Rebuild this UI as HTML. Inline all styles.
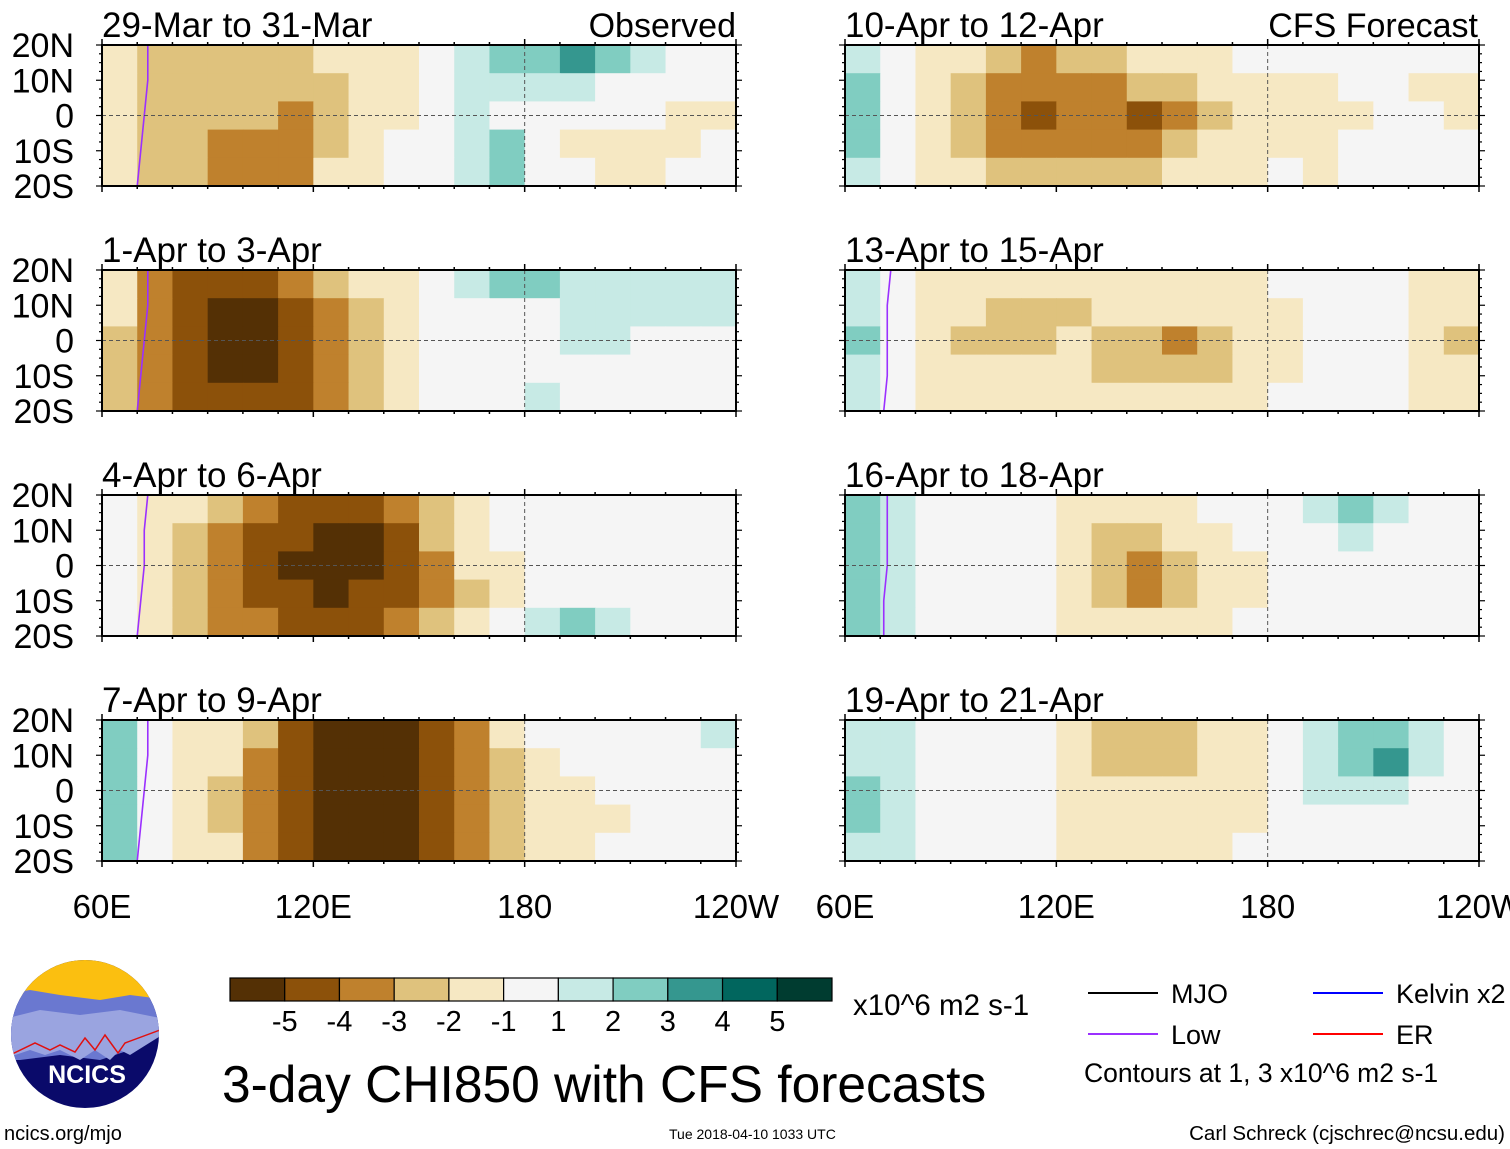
<!DOCTYPE html>
<html><head><meta charset="utf-8">
<style>
body{margin:0;background:#fff;width:1510px;height:1149px;overflow:hidden;font-family:"Liberation Sans",sans-serif}
svg{display:block}
</style></head>
<body>
<svg id="fig" width="1510" height="1149" viewBox="0 0 1510 1149" xmlns="http://www.w3.org/2000/svg" font-family="Liberation Sans, sans-serif"></svg>
<script>
// 18 lon cells (60E..240E step 10), 5 lat bands (20N..20S step 8)
const lonEdges = [60,70,80,90,100,110,120,130,140,150,160,170,180,190,200,210,220,230,240];
const latEdges = [20,12,4,-4,-12,-20];
const levels = [-5,-4,-3,-2,-1,1,2,3,4,5];
const levelColors = ["#543005","#8c510a","#bf812d","#dfc27d","#f6e8c3","#f5f5f5","#c7eae5","#80cdc1","#35978f","#01665e","#003c30"];
const titles = ["29-Mar to 31-Mar","1-Apr to 3-Apr","4-Apr to 6-Apr","7-Apr to 9-Apr","10-Apr to 12-Apr","13-Apr to 15-Apr","16-Apr to 18-Apr","19-Apr to 21-Apr"];
const p1 = [
[-1.5,-2.5,-2.5,-2.5,-2.5,-2.5,-1.5,-1.5,-1.5,0,1.5,2.5,2.5,3.5,2.5,1.5,0,0],
[-1.5,-2.5,-2.5,-2.5,-2.5,-2.5,-2.5,-1.5,-1.5,0,1.5,1.5,1.5,1.5,0,0,0,0],
[-1.5,-2.5,-2.5,-2.5,-2.5,-3.5,-2.5,-1.5,-1.5,0,1.5,0,0,0,0,0,-1.5,-1.5],
[-1.5,-2.5,-2.5,-3.5,-3.5,-3.5,-2.5,-1.5,0,0,1.5,2.5,0,-1.5,-1.5,-1.5,-1.5,0],
[-1.5,-2.5,-2.5,-3.5,-3.5,-3.5,-1.5,-1.5,0,0,1.5,2.5,0,0,-1.5,-1.5,0,0]];
const p2 = [
[-1.5,-3.5,-4.5,-4.5,-4.5,-3.5,-2.5,-1.5,-1.5,0,1.5,2.5,2.5,1.5,1.5,1.5,1.5,1.5],
[-1.5,-3.5,-4.5,-5.5,-5.5,-4.5,-3.5,-2.5,-1.5,0,0,0,0,1.5,1.5,1.5,1.5,1.5],
[-2.5,-3.5,-4.5,-5.5,-5.5,-4.5,-3.5,-2.5,-1.5,0,0,0,0,1.5,1.5,0,0,0],
[-2.5,-3.5,-4.5,-5.5,-5.5,-4.5,-3.5,-2.5,-1.5,0,0,0,0,0,0,0,0,0],
[-2.5,-3.5,-4.5,-4.5,-4.5,-4.5,-3.5,-2.5,-1.5,0,0,0,1.5,0,0,0,0,0]];
const p3 = [
[0,-1.5,-1.5,-2.5,-3.5,-4.5,-4.5,-4.5,-3.5,-2.5,-1.5,0,0,0,0,0,0,0],
[0,-1.5,-2.5,-3.5,-4.5,-4.5,-5.5,-5.5,-4.5,-2.5,-1.5,0,0,0,0,0,0,0],
[0,-1.5,-2.5,-3.5,-4.5,-5.5,-5.5,-5.5,-4.5,-3.5,-1.5,-1.5,0,0,0,0,0,0],
[0,-1.5,-2.5,-3.5,-4.5,-4.5,-5.5,-4.5,-4.5,-3.5,-2.5,-1.5,0,0,0,0,0,0],
[0,-1.5,-2.5,-3.5,-3.5,-4.5,-4.5,-4.5,-3.5,-2.5,-1.5,0,1.5,2.5,1.5,0,0,0]];
const p4 = [
[2.5,0,-1.5,-1.5,-2.5,-4.5,-5.5,-5.5,-5.5,-4.5,-3.5,-1.5,0,0,0,0,0,1.5],
[2.5,0,-1.5,-1.5,-3.5,-4.5,-5.5,-5.5,-5.5,-4.5,-3.5,-2.5,-1.5,0,0,0,0,0],
[2.5,0,-1.5,-2.5,-3.5,-4.5,-5.5,-5.5,-5.5,-4.5,-3.5,-2.5,-1.5,-1.5,0,0,0,0],
[2.5,0,-1.5,-2.5,-3.5,-4.5,-5.5,-5.5,-5.5,-4.5,-3.5,-2.5,-1.5,-1.5,-1.5,0,0,0],
[2.5,0,-1.5,-1.5,-3.5,-4.5,-5.5,-5.5,-5.5,-4.5,-3.5,-2.5,-1.5,-1.5,0,0,0,0]];
const p5 = [
[1.5,0,-1.5,-1.5,-2.5,-3.5,-2.5,-2.5,-1.5,-1.5,-1.5,0,0,0,0,0,0,0],
[2.5,0,-1.5,-2.5,-3.5,-3.5,-3.5,-3.5,-2.5,-2.5,-1.5,-1.5,-1.5,-1.5,0,0,-1.5,-1.5],
[2.5,0,-1.5,-2.5,-3.5,-4.5,-3.5,-3.5,-4.5,-3.5,-2.5,-1.5,-1.5,-1.5,-1.5,0,0,-1.5],
[2.5,0,-1.5,-2.5,-3.5,-3.5,-3.5,-3.5,-3.5,-2.5,-1.5,-1.5,-1.5,-1.5,0,0,0,0],
[1.5,0,-1.5,-1.5,-2.5,-2.5,-2.5,-2.5,-2.5,-1.5,-1.5,-1.5,0,-1.5,0,0,0,0]];
const p6 = [
[1.5,0,-1.5,-1.5,-1.5,-1.5,-1.5,-1.5,-1.5,-1.5,-1.5,-1.5,0,0,0,0,-1.5,-1.5],
[1.5,0,-1.5,-1.5,-2.5,-2.5,-2.5,-1.5,-1.5,-1.5,-1.5,-1.5,-1.5,0,0,0,-1.5,-1.5],
[2.5,0,-1.5,-2.5,-2.5,-2.5,-1.5,-2.5,-2.5,-3.5,-2.5,-1.5,-1.5,0,0,0,-1.5,-2.5],
[1.5,0,-1.5,-1.5,-1.5,-1.5,-1.5,-2.5,-2.5,-2.5,-2.5,-1.5,-1.5,0,0,0,-1.5,-1.5],
[1.5,0,-1.5,-1.5,-1.5,-1.5,-1.5,-1.5,-1.5,-1.5,-1.5,-1.5,0,0,0,0,-1.5,-1.5]];
const p7 = [
[2.5,1.5,0,0,0,0,-1.5,-1.5,-1.5,-1.5,0,0,0,1.5,2.5,1.5,0,0],
[2.5,1.5,0,0,0,0,-1.5,-2.5,-2.5,-1.5,-1.5,0,0,0,1.5,0,0,0],
[2.5,1.5,0,0,0,0,-1.5,-2.5,-3.5,-2.5,-1.5,-1.5,0,0,0,0,0,0],
[2.5,1.5,0,0,0,0,-1.5,-2.5,-3.5,-2.5,-1.5,-1.5,0,0,0,0,0,0],
[2.5,1.5,0,0,0,0,-1.5,-1.5,-1.5,-1.5,-1.5,0,0,0,0,0,0,0]];
const p8 = [
[1.5,1.5,0,0,0,0,-1.5,-2.5,-2.5,-2.5,-1.5,-1.5,0,1.5,2.5,2.5,1.5,0],
[1.5,1.5,0,0,0,0,-1.5,-2.5,-2.5,-2.5,-1.5,-1.5,0,1.5,2.5,3.5,1.5,0],
[2.5,1.5,0,0,0,0,-1.5,-1.5,-1.5,-1.5,-1.5,-1.5,0,1.5,1.5,1.5,0,0],
[2.5,1.5,0,0,0,0,-1.5,-1.5,-1.5,-1.5,-1.5,-1.5,0,0,0,0,0,0],
[1.5,1.5,0,0,0,0,-1.5,-1.5,-1.5,-1.5,-1.5,0,0,0,0,0,0,0]];
const panelData = [p1,p2,p3,p4,p5,p6,p7,p8];
// "Low" contour longitude at lats 20,10,0,-10,-20
const lowLats = [20,10,0,-10,-20];
const lowLon1 = [73,73,72,71,70];
const lowLon2 = [73,73,72,71,70];
const lowLon3 = [73,72,72,71,70];
const lowLon4 = [73,73,72,71,70];
const lowLon5 = [null,null,null,null,null];
const lowLon6 = [73,72,72,72,71];
const lowLon7 = [72,72,72,71,71];
const lowLon8 = [null,null,null,null,null];
const lowLons = [lowLon1,lowLon2,lowLon3,lowLon4,lowLon5,lowLon6,lowLon7,lowLon8];
const xTicks = [60,120,180,240];
const xTickLabels = ["60E","120E","180","120W"];
const yTicks = [20,10,0,-10,-20];
const yTickLabels = ["20N","10N","0","10S","20S"];
const cbarLabels = ["-5","-4","-3","-2","-1","1","2","3","4","5"];

const NS="http://www.w3.org/2000/svg";
const svg=document.getElementById('fig');
function mk(tag,attrs,parent,text){const e=document.createElementNS(NS,tag);for(const k in attrs)e.setAttribute(k,attrs[k]);if(text!==undefined)e.textContent=text;(parent||svg).appendChild(e);return e;}
function colorFor(v){let i=0;while(i<levels.length&&v>levels[i])i++;return levelColors[i];}
const colX=[102,845], rowY=[45,270,495,720], PW=634, PH=141;
for(let p=0;p<8;p++){
  const c=p<4?0:1, r=p%4, x0=colX[c], y0=rowY[r];
  const xs=lon=>x0+(lon-60)/180*PW, ys=lat=>y0+(20-lat)/40*PH;
  const g=mk('g',{});
  
  
  const d=panelData[p];
  for(let i=0;i<5;i++)for(let j=0;j<18;j++){
    const rc=mk('rect',{x:xs(lonEdges[j]),y:ys(latEdges[i]),width:xs(lonEdges[j+1])-xs(lonEdges[j])+0.5,height:ys(latEdges[i+1])-ys(latEdges[i])+0.5,fill:colorFor(d[i][j])},g);
    
    
  }
  const ll=lowLons[p];
  if(ll[0]!==null){
    const pl=mk('polyline',{points:ll.map((v,k)=>xs(v)+','+ys(lowLats[k])).join(' '),fill:'none',stroke:'#9b30ff','stroke-width':1.6},g);
    
    
  }
  mk('line',{x1:x0,x2:x0+PW,y1:ys(0),y2:ys(0),stroke:'#555','stroke-dasharray':'4,3','stroke-width':1},g);
  mk('line',{x1:xs(180),x2:xs(180),y1:y0,y2:y0+PH,stroke:'#555','stroke-dasharray':'4,3','stroke-width':1},g);
  const fr=mk('rect',{x:x0,y:y0,width:PW,height:PH,fill:'none',stroke:'#000','stroke-width':2},g);
  
  
  for(let lon=60;lon<=240;lon+=10){const X=xs(lon),L=lon%60===0?6:3;
    mk('line',{x1:X,x2:X,y1:y0+PH,y2:y0+PH+L,stroke:'#000','stroke-width':1.5},g);
    mk('line',{x1:X,x2:X,y1:y0,y2:y0-L,stroke:'#000','stroke-width':1.5},g);}
  for(let lat=-20;lat<=20;lat+=2.5){const Y=ys(lat),L=lat%10===0?6:3;
    mk('line',{x1:x0,x2:x0-L,y1:Y,y2:Y,stroke:'#000','stroke-width':1.2},g);
    mk('line',{x1:x0+PW,x2:x0+PW+L,y1:Y,y2:Y,stroke:'#000','stroke-width':1.2},g);}
  const t=mk('text',{x:x0,y:y0-8,'font-size':35},g,titles[p]);
  
  
  if(c===0){
    yTicks.forEach((v,k)=>{const tl=mk('text',{x:74,y:ys(v)+12,'font-size':34,'text-anchor':'end'},g,yTickLabels[k]);
      
      });
  }
  if(r===3){
    xTicks.forEach((v,k)=>{const tl=mk('text',{x:xs(v),y:918,'font-size':33,'text-anchor':'middle'},g,xTickLabels[k]);
      
      });
  }
}
let h=mk('text',{x:736,y:37,'font-size':34,'text-anchor':'end'},svg,'Observed');

h=mk('text',{x:1478,y:37,'font-size':34,'text-anchor':'end'},svg,'CFS Forecast');

// colorbar
const cb=mk('g',{});

const cbx=230,cbw=602/11;
levelColors.forEach((col,i)=>{mk('rect',{x:cbx+i*cbw,y:978,width:cbw,height:23,fill:col,stroke:'#000','stroke-width':1.2},cb);});
cbarLabels.forEach((s,i)=>{mk('text',{x:cbx+(i+1)*cbw,y:1031,'font-size':29,'text-anchor':'middle'},cb,s);});
mk('text',{x:853,y:1015,'font-size':29.5},cb,'x10^6 m2 s-1');
h=mk('text',{x:222,y:1102,'font-size':51.5},svg,'3-day CHI850 with CFS forecasts');

// legend
const lg=mk('g',{});

[[1088,993,'#000','MJO'],[1313,993,'#0000ff','Kelvin x2'],[1088,1034,'#9b30ff','Low'],[1313,1034,'#ff0000','ER']].forEach(a=>{
  mk('line',{x1:a[0],x2:a[0]+70,y1:a[1],y2:a[1],stroke:a[2],'stroke-width':2},lg);
  mk('text',{x:a[0]+83,y:a[1]+10,'font-size':27},lg,a[3]);});
mk('text',{x:1084,y:1082,'font-size':26.5},lg,'Contours at 1, 3 x10^6 m2 s-1');
h=mk('text',{x:1505,y:1140,'font-size':20.5,'text-anchor':'end'},svg,'Carl Schreck (cjschrec@ncsu.edu)');

h=mk('text',{x:669,y:1139,'font-size':14},svg,'Tue 2018-04-10 1033 UTC');

h=mk('text',{x:4,y:1140,'font-size':20},svg,'ncics.org/mjo');

// logo
const lo=mk('g',{});

mk('clipPath',{id:'lc'},lo);
mk('circle',{cx:85,cy:1034,r:74},document.getElementById('lc'));
const lg2=mk('g',{'clip-path':'url(#lc)'},lo);
mk('rect',{x:0,y:955,width:170,height:160,fill:'#0a0a6a'},lg2);
mk('rect',{x:0,y:955,width:170,height:45,fill:'#fbbf10'},lg2);
mk('polygon',{points:'0,995 30,990 60,995 100,1000 130,995 170,1000 170,1030 130,1050 100,1060 60,1055 20,1060 0,1060',fill:'#6a78d0'},lg2);
mk('polygon',{points:'0,1020 40,1010 80,1015 120,1010 170,1020 170,1030 130,1055 120,1050 110,1060 95,1050 80,1060 60,1050 45,1055 30,1050 0,1060',fill:'#9aa4e0'},lg2);
mk('polyline',{points:'10,1055 35,1043 50,1050 60,1045 75,1052 85,1038 95,1050 105,1035 118,1053 125,1043 160,1030',fill:'none',stroke:'#e01010','stroke-width':1.5},lg2);
mk('text',{x:87,y:1083,'font-size':25,'font-weight':'bold','text-anchor':'middle',fill:'#fff'},lo,'NCICS');
</script>
</body></html>
